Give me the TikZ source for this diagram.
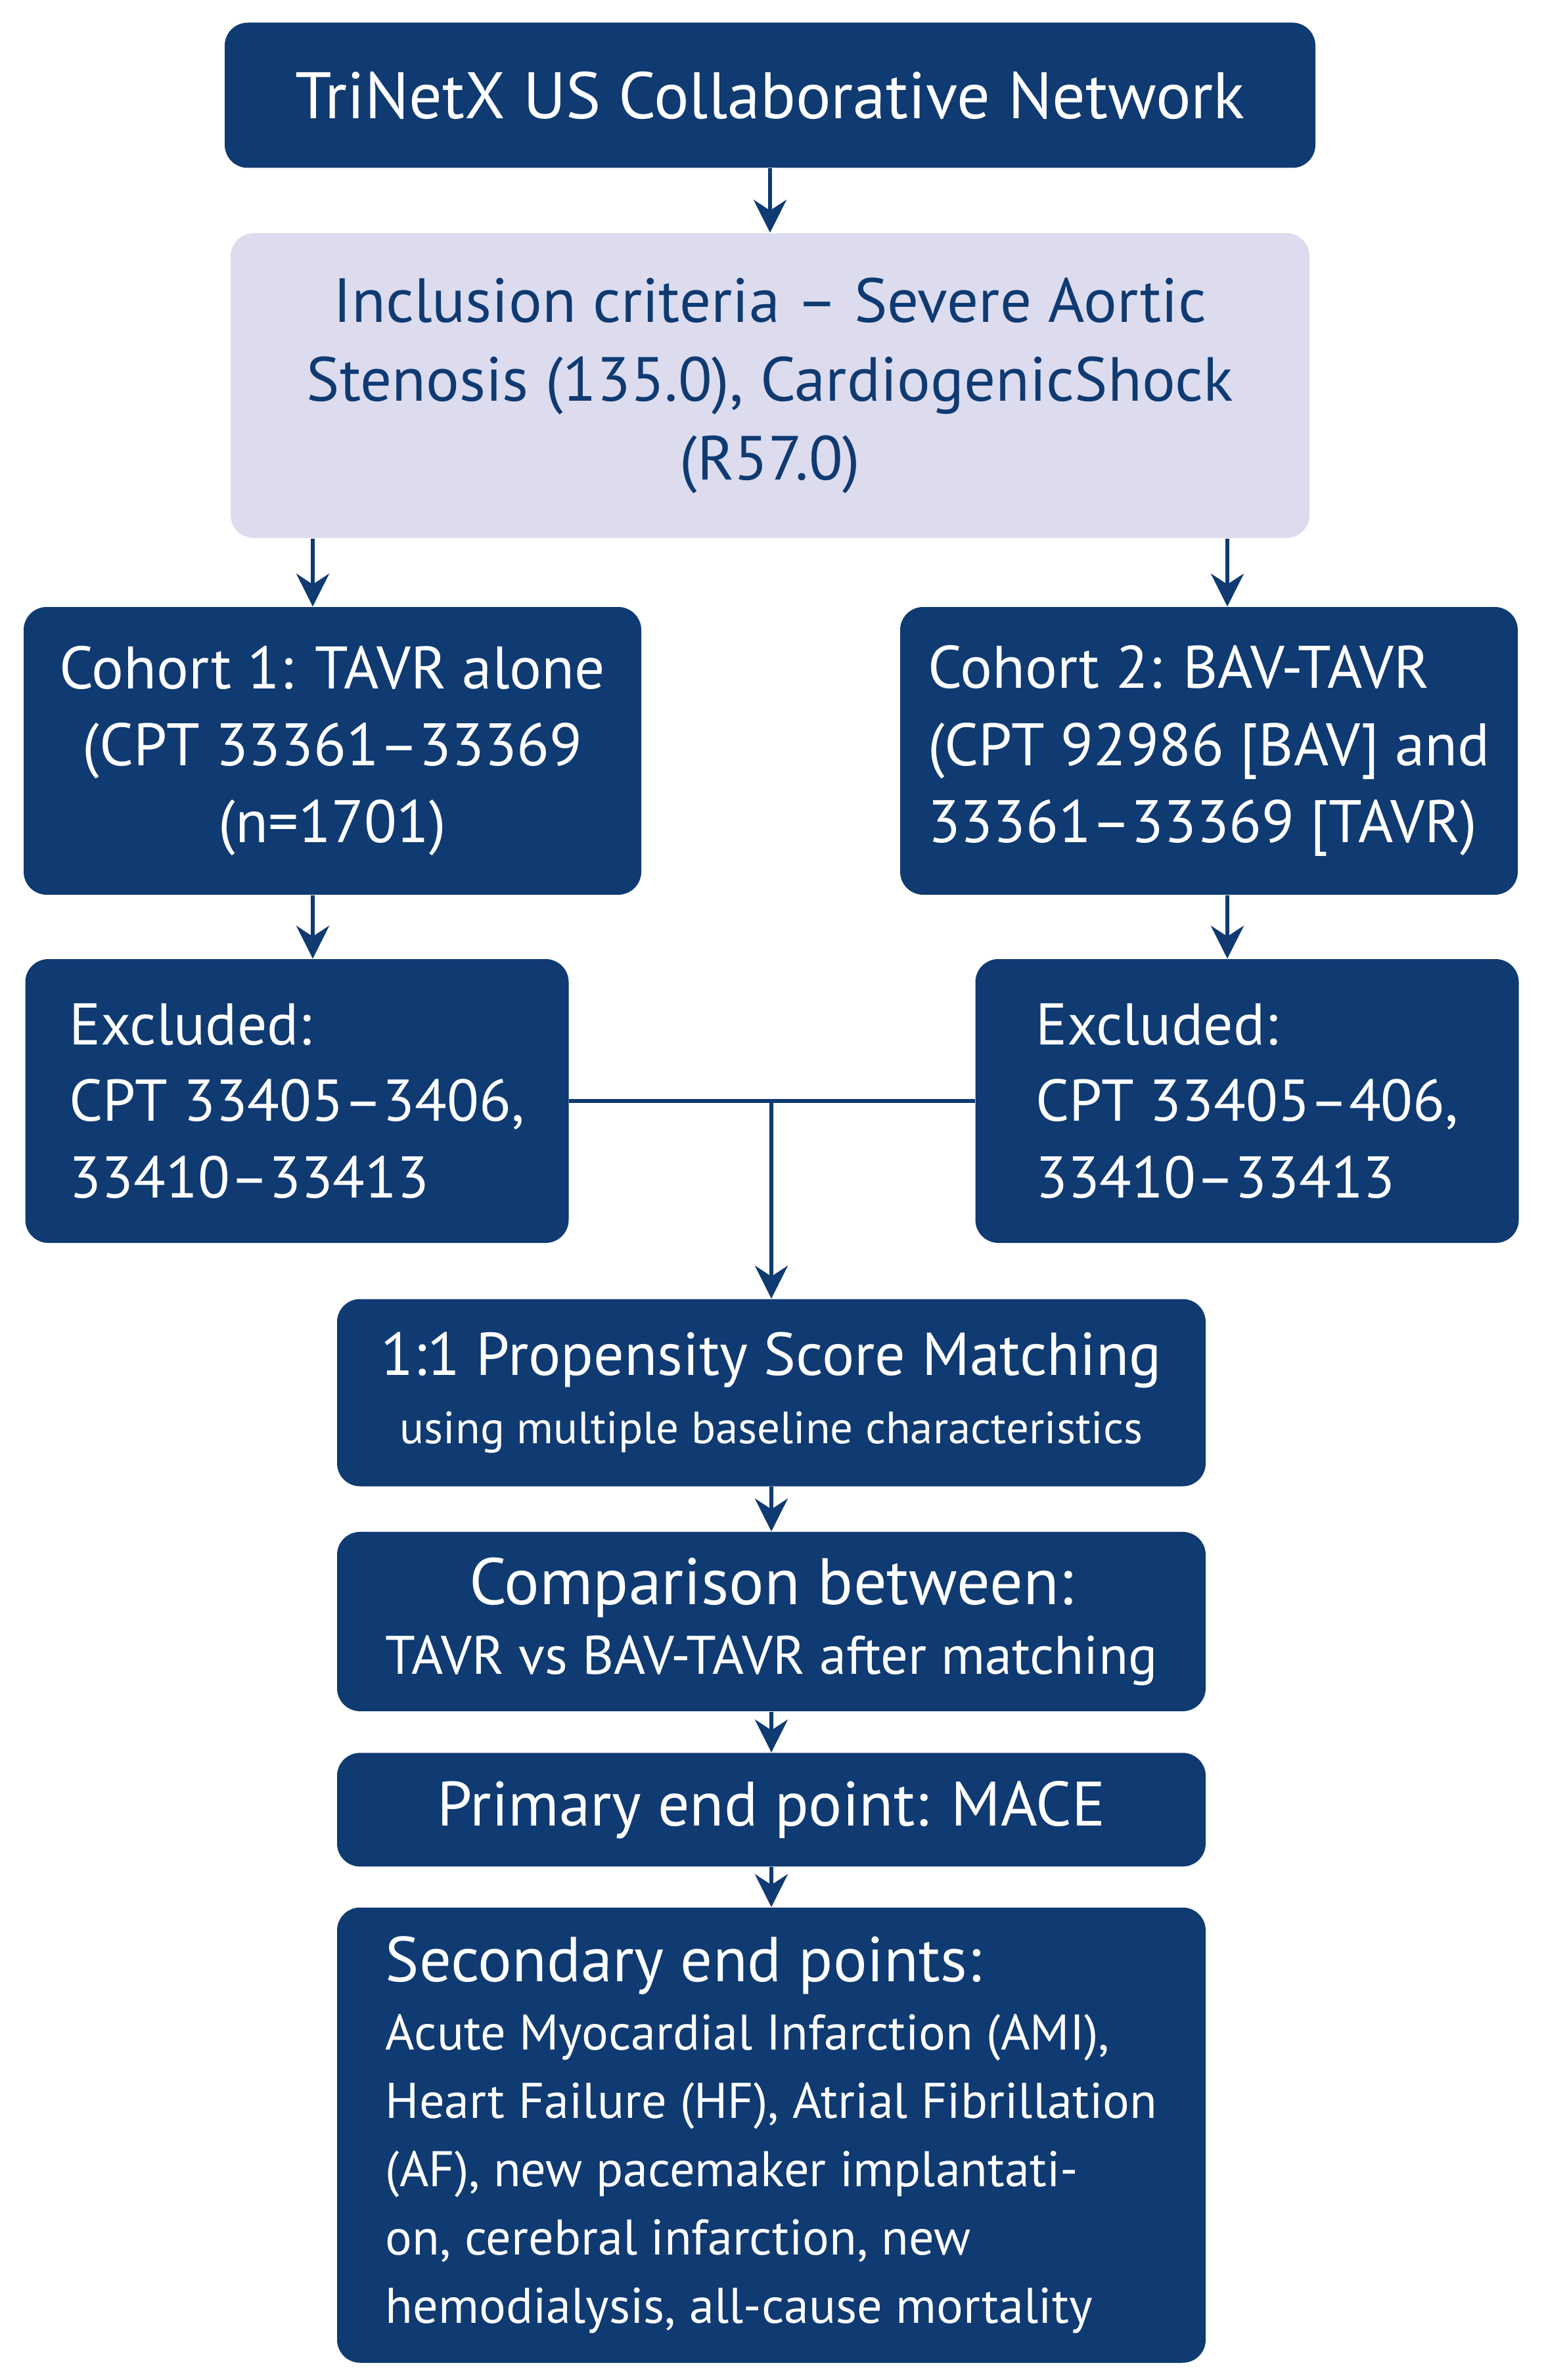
\documentclass[tikz,border=0pt]{standalone}
\usepackage{fontspec}
\setmainfont{PT Sans}
\usetikzlibrary{arrows.meta, positioning}

\definecolor{navy}{HTML}{0F3A72}
\definecolor{lilac}{HTML}{DCDCEE}
\newcommand{\setfs}[2]{\fontsize{#1}{#2}\selectfont}

\begin{document}
\begin{tikzpicture}[
  box/.style={rectangle, rounded corners=0.35cm, fill=navy, text=white, inner sep=0pt, align=center, font=\setfs{25}{33.3}},
  lightbox/.style={box, fill=lilac, text=navy},
  sidebox/.style={box, minimum width=9.4cm, minimum height=4.38cm, font=\setfs{26}{33.4}},
  exbox/.style={box, minimum width=8.27cm, minimum height=4.32cm, align=left, font=\setfs{25.5}{33.2}},
  midbox/.style={box, minimum width=13.22cm},
  arr/.style={-{Stealth[length=0.5cm, width=0.5cm]}, navy, line width=0.06cm},
  joinline/.style={navy, line width=0.06cm},
]
\useasboundingbox (0,0) rectangle (23.53,-36.23);

\node[box, minimum width=16.6cm, minimum height=2.21cm, font=\setfs{28.5}{36}] at (11.72,-1.45) (top) {TriNetX US Collaborative Network};
\node[lightbox, minimum width=16.42cm, minimum height=4.64cm, below=0.98cm of top, font=\setfs{27}{34.2}] (incl) {Inclusion criteria – Severe Aortic\\Stenosis (135.0), CardiogenicShock\\(R57.0)};

\node[sidebox] at (5.06,-11.43)  (coh1) {Cohort 1: TAVR alone\\(CPT 33361–33369\\(n=1701)};
\node[sidebox, align=left] at (18.40,-11.43) (coh2) {Cohort 2: BAV-TAVR\\(CPT 92986 [BAV] and\\33361–33369 [TAVR)};
\node[exbox] at (4.52,-16.76)  (exc1) {Excluded:\\CPT 33405–3406,\\33410–33413};
\node[exbox] at (18.98,-16.76) (exc2) {Excluded:\\CPT 33405–406,\\33410–33413};

\node[midbox, minimum height=2.85cm, font=\setfs{19.6}{29.5}] at (11.74,-21.20) (psm) {{\setfs{26.2}{33}1:1 Propensity Score Matching}\\using multiple baseline characteristics};
\node[midbox, minimum height=2.73cm, below=0.68cm of psm, font=\setfs{23.5}{30}]  (comp) {{\setfs{28.5}{34}Comparison between:}\\TAVR vs BAV-TAVR after matching};
\node[midbox, minimum height=1.73cm, below=0.62cm of comp, font=\setfs{27.2}{34}] (prim) {Primary end point: MACE};
\node[midbox, minimum height=6.93cm, below=0.61cm of prim, align=left, font=\setfs{21.7}{29.6}] (sec) {{\setfs{27.5}{34}Secondary end points:}\\Acute Myocardial Infarction (AMI),\\Heart Failure (HF), Atrial Fibrillation\\(AF), new pacemaker implantati-\\on, cerebral infarction, new\\hemodialysis, all-cause mortality};

\coordinate (lx) at (4.76,0);
\coordinate (rx) at (18.68,0);

\draw[arr] (top) -- (incl);
\draw[arr] (incl.south -| lx) -- (coh1.north -| lx);
\draw[arr] (incl.south -| rx) -- (coh2.north -| rx);
\draw[arr] (coh1.south -| lx) -- (exc1.north -| lx);
\draw[arr] (coh2.south -| rx) -- (exc2.north -| rx);

\draw[joinline] (exc1.east) -- (exc2.west);
\coordinate (join) at (exc1.east -| psm.north);
\draw[arr] (join) -- (psm.north);
\draw[arr] (psm) -- (comp);
\draw[arr] (comp) -- (prim);
\draw[arr] (prim) -- (sec);
\end{tikzpicture}
\end{document}
